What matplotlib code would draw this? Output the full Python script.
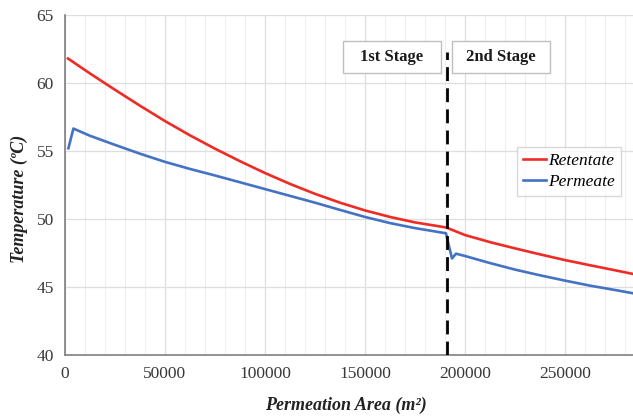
import matplotlib
matplotlib.use("Agg")
import matplotlib.pyplot as plt
from matplotlib.patches import Rectangle
from matplotlib.ticker import MultipleLocator

# Retentate temperature along the membrane area
retentate_area = [1500, 12500, 25000, 37500, 50000, 62500, 75000, 87500, 100000,
                  112500, 125000, 137500, 150000, 162500, 175000, 190500,
                  200000, 212500, 225000, 237500, 250000, 262500, 275000, 284000]
retentate_temp = [61.8, 60.7, 59.5, 58.33, 57.2, 56.15, 55.17, 54.25, 53.38,
                  52.58, 51.85, 51.2, 50.63, 50.15, 49.75, 49.38,
                  48.82, 48.3, 47.84, 47.4, 46.98, 46.6, 46.23, 45.96]

# Permeate temperature along the membrane area
permeate_area = [1700, 4200, 12500, 25000, 37500, 50000, 62500, 75000, 87500,
                 100000, 112500, 125000, 137500, 150000, 162500, 175000, 190500,
                 192000, 193500, 195500, 200000, 212500, 225000, 237500, 250000,
                 262500, 275000, 284000]
permeate_temp = [55.2, 56.65, 56.12, 55.45, 54.8, 54.2, 53.68, 53.2, 52.7,
                 52.2, 51.7, 51.2, 50.67, 50.15, 49.7, 49.33, 48.95,
                 48.0, 47.1, 47.45, 47.28, 46.76, 46.28, 45.86, 45.47,
                 45.1, 44.78, 44.54]

stage_boundary = 191000
stage_labels = ["1st Stage", "2nd Stage"]
series_labels = ["Retentate", "Permeate"]

serif = ["Liberation Serif", "DejaVu Serif"]
plt.rcParams["font.family"] = serif

fig = plt.figure(figsize=(6.33, 4.19), dpi=100)
ax = fig.add_axes([65 / 633, 64 / 419, 568 / 633, 340 / 419])

ax.plot(retentate_area, retentate_temp, color="#ee2b24", lw=1.9,
        label=series_labels[0], zorder=3)
ax.plot(permeate_area, permeate_temp, color="#4472c4", lw=1.9,
        label=series_labels[1], zorder=3)

ax.plot([stage_boundary, stage_boundary], [40, 62.3], color="black", lw=2.0,
        linestyle=(0, (5, 2.6)), zorder=4)

ax.set_xlim(0, 284000)
ax.set_ylim(40, 65)
ax.xaxis.set_major_locator(MultipleLocator(50000))
ax.xaxis.set_minor_locator(MultipleLocator(10000))
ax.yaxis.set_major_locator(MultipleLocator(5))

ax.grid(True, which="major", color="#dedede", lw=0.9, zorder=0)
ax.grid(True, which="minor", axis="x", color="#eeeeee", lw=0.8, zorder=0)
ax.set_axisbelow(True)

for side in ["top", "right"]:
    ax.spines[side].set_visible(False)
for side in ["left", "bottom"]:
    ax.spines[side].set_color("#7f7f7f")
    ax.spines[side].set_linewidth(1.2)

ax.tick_params(which="both", length=0, labelsize=12.5, colors="#383838")
ax.tick_params(axis="y", pad=8)
ax.tick_params(axis="x", pad=8)

ax.set_xlabel("Permeation Area (m²)", fontsize=13, fontweight="bold",
              fontstyle="italic", color="#222222")
ax.set_ylabel("Temperature (ºC)", fontsize=13, fontweight="bold",
              fontstyle="italic", color="#222222")
ax.xaxis.set_label_coords(0.494, -0.122)
ax.yaxis.set_label_coords(-0.066, 0.46)

# Stage boxes above the plot
boxes = [(138850, 188000), (193350, 242500)]
for (x0, x1), text in zip(boxes, stage_labels):
    ax.add_patch(Rectangle((x0, 60.74), x1 - x0, 2.35, facecolor="white",
                           edgecolor="#bfbfbf", lw=1.0, zorder=5))
    ax.text((x0 + x1) / 2, 61.9, text, ha="center", va="center",
            fontsize=12, fontweight="bold", color="#1a1a1a", zorder=6)

leg = ax.legend(loc="upper left", bbox_to_anchor=(0.796, 0.612),
                prop={"style": "italic", "size": 12.5}, frameon=True,
                fancybox=False, handlelength=1.3, handletextpad=0.15,
                borderpad=0.35, labelspacing=0.25, borderaxespad=0)
leg.get_frame().set_edgecolor("#cfcfcf")
leg.get_frame().set_linewidth(1.0)

fig.savefig("out.png", dpi=100, facecolor="white")
